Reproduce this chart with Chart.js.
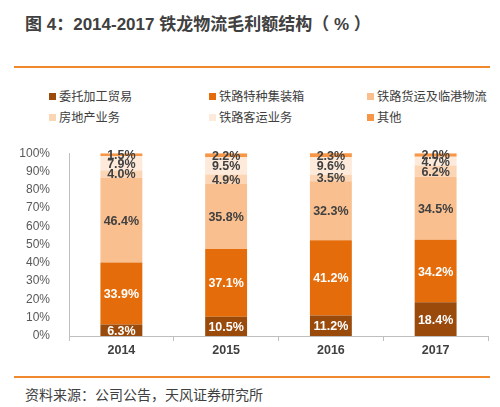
<!DOCTYPE html>
<html><head><meta charset="utf-8">
<script src="https://cdn.jsdelivr.net/npm/chart.js@4/dist/chart.umd.min.js"></script>
<style>
html,body{margin:0;padding:0;background:#fff;}
body{width:500px;height:407px;position:relative;overflow:hidden;font-family:"Liberation Sans","Noto Sans CJK SC",sans-serif;}
#title{position:absolute;left:25px;top:10px;font-size:17px;font-weight:bold;color:#404040;white-space:nowrap;}
.line{position:absolute;left:14px;width:476px;height:2px;background:#f0892e;}
#legend{position:absolute;left:0;top:88px;width:500px;height:40px;}
.li{position:absolute;font-size:12.2px;color:#404040;white-space:nowrap;line-height:14px;}
.li span{display:inline-block;width:7px;height:7px;margin-right:3px;vertical-align:1px;}
#wrap{position:absolute;left:0;top:135px;width:500px;height:230px;}
#src{position:absolute;left:25px;top:384px;font-size:14px;color:#404040;white-space:nowrap;}
</style></head>
<body>
<div id="title">图 4：2014-2017 铁龙物流毛利额结构（ % ）</div>
<div class="line" style="top:66px"></div>
<div id="legend"></div>
<div id="wrap"><canvas id="c"></canvas></div>
<div class="line" style="top:376px"></div>
<div id="src">资料来源：公司公告，天风证券研究所</div>
<script>
const categories = ["2014","2015","2016","2017"];
const seriesNames = ["委托加工贸易","铁路特种集装箱","铁路货运及临港物流","房地产业务","铁路客运业务","其他"];
const trade      = [6.3, 10.5, 11.2, 18.4];
const container  = [33.9, 37.1, 41.2, 34.2];
const freight    = [46.4, 35.8, 32.3, 34.5];
const realEstate = [4.0, 4.9, 3.5, 6.2];
const passenger  = [7.9, 9.5, 9.6, 4.7];
const other      = [1.5, 2.2, 2.3, 2.0];
const yTicks = [0,10,20,30,40,50,60,70,80,90,100];

const seriesData = [trade, container, freight, realEstate, passenger, other];
const colors = ["#9a4a0b","#e46c0a","#f9bf8f","#fcd5b4","#fdeada","#f79646"];
const labelColors = ["#ffffff","#ffffff","#404040","#404040","#404040","#404040"];

// HTML legend
const legendPos = [[49,2],[209,2],[367,2],[49,23],[209,23],[367,23]];
const lg = document.getElementById('legend');
seriesNames.forEach((n,i)=>{
  const d = document.createElement('div');
  d.className='li';
  d.style.left = legendPos[i][0]+'px';
  d.style.top = legendPos[i][1]+'px';
  d.innerHTML = '<span style="background:'+colors[i]+'"></span>'+n;
  lg.appendChild(d);
});

const labelPlugin = {
  id:'barLabels',
  afterDatasetsDraw(chart){
    const ctx = chart.ctx;
    ctx.save();
    ctx.font = 'bold 12.5px "Liberation Sans","Noto Sans CJK SC",sans-serif';
    ctx.textAlign='center';
    ctx.textBaseline='middle';
    chart.data.datasets.forEach((ds,di)=>{
      const meta = chart.getDatasetMeta(di);
      meta.data.forEach((el,i)=>{
        const p = el.getProps(['x','y','base'],true);
        ctx.fillStyle = labelColors[di];
        ctx.fillText(ds.data[i].toFixed(1)+'%', p.x, (p.y+p.base)/2+1);
      });
    });
    ctx.restore();
  }
};

new Chart(document.getElementById('c'),{
  type:'bar',
  data:{
    labels:categories,
    datasets: seriesNames.map((n,i)=>({
      label:n, data:seriesData[i], backgroundColor:colors[i],
      borderWidth:0, barPercentage:0.4, categoryPercentage:1.0
    }))
  },
  options:{
    responsive:true, maintainAspectRatio:false, animation:false,
    layout:{padding:{left:0,right:12,top:10,bottom:0}},
    plugins:{legend:{display:false},tooltip:{enabled:false}},
    scales:{
      x:{
        stacked:true,
        grid:{display:true,drawOnChartArea:false,drawTicks:true,tickLength:5,color:'#bfbfbf',offset:true},
        border:{display:true,color:'#bfbfbf',width:1},
        ticks:{color:'#404040',font:{size:12.5,weight:'bold',family:'"Liberation Sans",sans-serif'},padding:2},
        afterFit(s){s.height=29;}
      },
      y:{
        stacked:true, min:0, max:100,
        afterBuildTicks(s){s.ticks = yTicks.map(v=>({value:v}));},
        grid:{display:false},
        border:{display:true,color:'#bfbfbf',width:1},
        ticks:{color:'#595959',autoSkip:false,font:{size:12,family:'"Liberation Sans",sans-serif'},padding:11,callback:v=>v+'%'},
        afterFit(s){s.width=69;}
      }
    }
  },
  plugins:[labelPlugin]
});
</script>
</body></html>
